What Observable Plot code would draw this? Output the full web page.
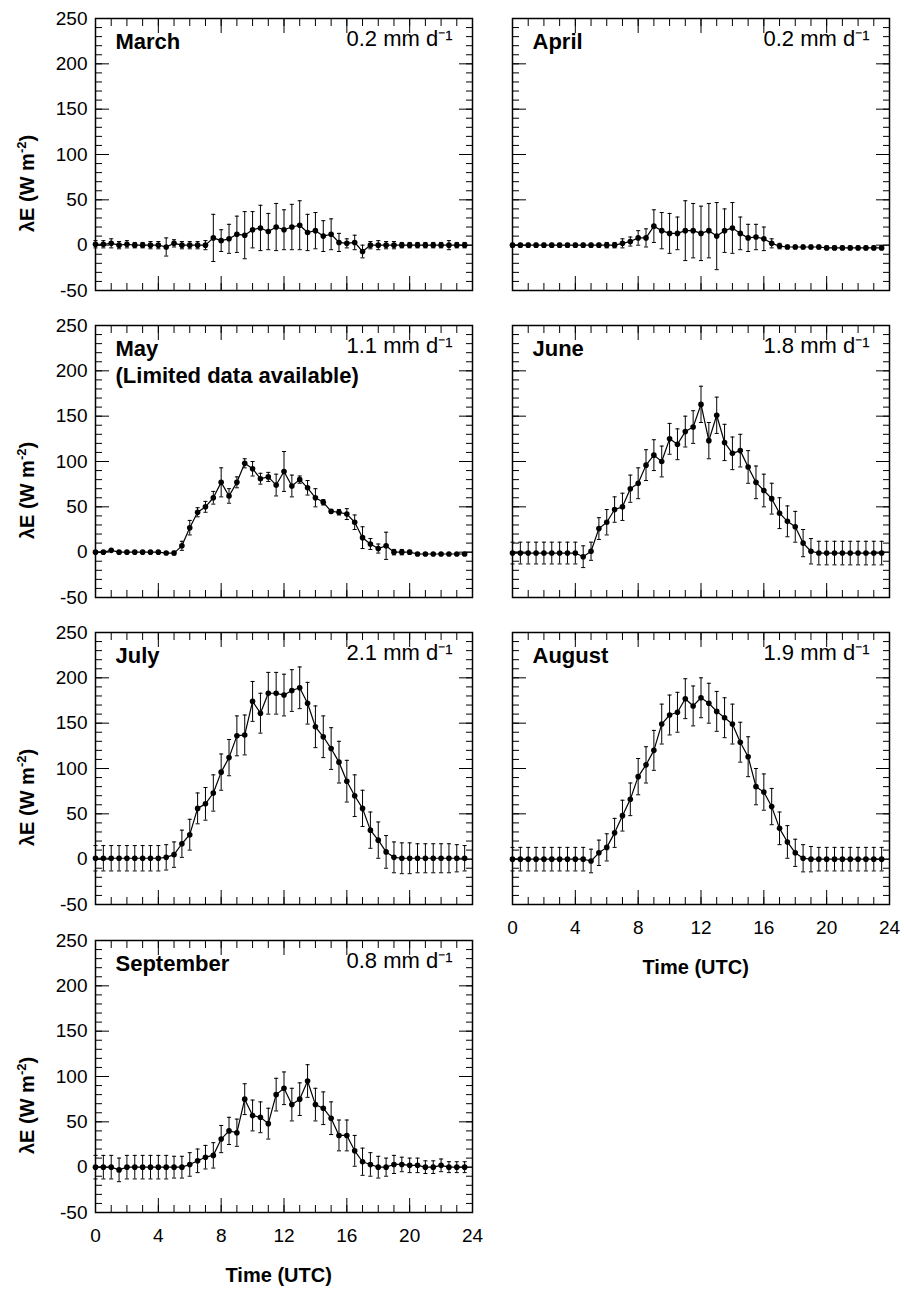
<!DOCTYPE html>
<html>
<head>
<meta charset="utf-8">
<script src="https://cdn.jsdelivr.net/npm/d3@7"></script>
<script src="https://cdn.jsdelivr.net/npm/@observablehq/plot@0.6"></script>
<style>
  body { margin: 0; background: white; font-family: "Liberation Sans", Arial, sans-serif; }
  #wrap { position: relative; width: 904px; height: 1295px; }
  .panel { position: absolute; }
  .ylab { position: absolute; font-weight: bold; font-size: 20px; transform: rotate(-90deg); transform-origin: left top; white-space: nowrap; }
  .xlab { position: absolute; font-weight: bold; font-size: 20px; }
</style>
</head>
<body>
<div id="wrap"></div>
<script>
// half-hourly times 0 .. 23.5
const times = d3.range(48).map(i => i / 2);

const marchE = [1,1,2,0,1,0,0,0,0,-2,2,0,0,0,0,8,5,7,12,11,17,19,15,20,17,20,22,14,16,10,12,3,2,3,-7,0,0,0,0,0,0,0,0,0,0,0,0,0];
const marchErr = [4,4,5,4,4,3,3,4,4,10,4,4,4,4,5,26,12,16,20,26,20,25,20,26,22,25,27,20,20,17,17,10,5,8,7,4,5,4,4,3,3,3,3,3,3,5,3,3];
const aprilE = [0,0,0,0,0,0,0,0,0,0,0,0,0,0,2,4,8,8,21,16,13,13,16,16,13,16,10,16,19,13,8,9,7,2,-1,-2,-2,-2,-2,-2,-3,-3,-3,-3,-3,-3,-3,-3];
const aprilErr = [2,2,2,2,2,2,2,2,2,2,2,2,3,3,5,5,8,10,18,20,22,18,33,30,30,30,37,24,28,18,15,14,13,5,3,2,2,2,2,2,2,2,2,2,2,2,2,2];
const mayE = [0,0,2,0,0,0,0,0,0,-1,-1,7,27,44,50,60,77,62,77,98,92,81,83,74,89,73,80,71,60,55,45,44,42,33,16,9,4,7,0,0,0,-2,-2,-2,-2,-2,-2,-2];
const mayErr = [1,1,1,1,1,1,1,1,1,1,2,5,8,5,6,7,16,8,6,5,8,6,5,12,22,12,4,8,10,3,2,3,6,8,12,6,5,15,3,3,2,1,1,1,1,1,1,1];
const juneE = [-1,-1,-1,-1,-1,-1,-1,-1,-1,-5,1,26,33,47,50,70,76,96,107,100,125,119,133,138,163,123,151,121,109,112,94,77,68,59,43,34,28,10,1,-1,-1,-1,-1,-1,-1,-1,-1,-1];
const juneErr = [12,12,12,12,12,12,12,12,12,12,10,12,14,14,15,15,17,17,17,17,17,17,17,18,20,20,20,20,18,18,18,18,18,17,17,17,17,15,14,13,13,13,13,13,13,13,13,13];
const julyE = [1,1,1,1,1,1,1,1,1,2,5,17,27,56,61,73,96,112,136,137,174,161,183,183,181,186,189,172,146,135,122,107,86,70,56,32,21,8,2,1,1,1,1,1,1,1,1,1];
const julyErr = [14,14,14,14,14,14,14,14,14,14,14,15,17,17,18,20,20,20,22,22,22,22,23,23,23,23,23,23,23,23,23,23,23,23,20,20,20,18,17,17,17,16,16,16,16,16,15,14];
const augustE = [0,0,0,0,0,0,0,0,0,0,-2,7,13,29,48,66,91,104,120,149,159,162,177,169,178,172,163,156,149,129,113,80,74,58,34,19,7,1,0,0,0,0,0,0,0,0,0,0];
const augustErr = [13,13,13,13,13,13,13,13,13,13,13,14,15,16,17,18,20,20,22,22,22,22,22,22,22,22,22,22,22,22,22,20,20,20,18,18,15,15,14,13,13,13,13,13,13,13,13,13];
const septE = [0,0,0,-3,0,0,0,0,0,0,0,0,3,7,11,13,31,40,38,75,57,55,48,80,87,69,75,95,69,65,54,35,35,18,6,3,0,0,3,3,2,2,0,0,2,0,0,0];
const septErr = [13,13,13,13,13,13,13,13,13,13,12,12,13,13,13,14,15,15,15,17,17,17,17,18,18,18,18,18,18,18,18,17,17,17,15,13,12,10,10,8,8,8,7,7,7,6,6,6];

const panels = [
  {name: "March", rate: "0.2 mm d⁻¹", e: marchE, err: marchErr, col: 0, row: 0},
  {name: "April", rate: "0.2 mm d⁻¹", e: aprilE, err: aprilErr, col: 1, row: 0},
  {name: "May\n(Limited data available)", rate: "1.1 mm d⁻¹", e: mayE, err: mayErr, col: 0, row: 1},
  {name: "June", rate: "1.8 mm d⁻¹", e: juneE, err: juneErr, col: 1, row: 1},
  {name: "July", rate: "2.1 mm d⁻¹", e: julyE, err: julyErr, col: 0, row: 2},
  {name: "August", rate: "1.9 mm d⁻¹", e: augustE, err: augustErr, col: 1, row: 2, xlabels: true},
  {name: "September", rate: "0.8 mm d⁻¹", e: septE, err: septErr, col: 0, row: 3, xlabels: true}
];

const rowTop = [18, 325, 632, 940];
const plotH = 272;
const wrap = document.getElementById("wrap");
const blank = () => "";

panels.forEach(p => {
  const data = times.map((t, i) => ({t, e: p.e[i], lo: p.e[i] - p.err[i], hi: p.e[i] + p.err[i]}));
  const left = p.col === 0;
  const mL = left ? 95 : 92;
  const svgLeft = left ? 0 : 420;
  const width = left ? 492 : 484;
  const mR = width - mL - 377;

  const plot = Plot.plot({
    width,
    height: plotH + 50,
    marginLeft: mL,
    marginRight: mR,
    marginTop: 10,
    marginBottom: 40,
    x: {domain: [0, 24]},
    y: {domain: [-50, 250]},
    style: {fontFamily: "Liberation Sans, Arial, sans-serif", fontSize: "19px", color: "black"},
    marks: [
      // minor ticks
      Plot.axisX(d3.range(0, 25, 1), {anchor: "bottom", tickSize: -7, tickFormat: blank, label: null}),
      Plot.axisX(d3.range(0, 25, 1), {anchor: "top", tickSize: -7, tickFormat: blank, label: null}),
      Plot.axisY(d3.range(-50, 251, 10), {anchor: "left", tickSize: -7, tickFormat: blank, label: null}),
      Plot.axisY(d3.range(-50, 251, 10), {anchor: "right", tickSize: -7, tickFormat: blank, label: null}),
      // major ticks
      Plot.axisX(d3.range(0, 25, 4), {anchor: "bottom", tickSize: -14, tickPadding: 30, tickFormat: p.xlabels ? d => d : blank, label: null}),
      Plot.axisX(d3.range(0, 25, 4), {anchor: "top", tickSize: -14, tickFormat: blank, label: null}),
      Plot.axisY(d3.range(-50, 251, 50), {anchor: "left", tickSize: -14, tickPadding: 22, tickFormat: left ? d => d : blank, label: null}),
      Plot.axisY(d3.range(-50, 251, 50), {anchor: "right", tickSize: -14, tickFormat: blank, label: null}),
      Plot.frame({stroke: "black", strokeWidth: 1.5}),
      Plot.ruleX(data, {x: "t", y1: "lo", y2: "hi", stroke: "black", strokeWidth: 1}),
      Plot.link(data, {x1: d => d.t - 0.13, x2: d => d.t + 0.13, y1: "lo", y2: "lo", stroke: "black"}),
      Plot.link(data, {x1: d => d.t - 0.13, x2: d => d.t + 0.13, y1: "hi", y2: "hi", stroke: "black"}),
      Plot.line(data, {x: "t", y: "e", stroke: "black", strokeWidth: 1.2}),
      Plot.dot(data, {x: "t", y: "e", r: 2.8, fill: "black"}),
      Plot.text([p.name], {frameAnchor: "top-left", dx: 20, dy: 12, fontWeight: "bold", fontSize: 22, lineHeight: 1.2, textAnchor: "start"}),
      Plot.text([p.rate], {frameAnchor: "top-right", dx: -20, dy: 12, fontSize: 22, textAnchor: "end"})
    ]
  });

  const div = document.createElement("div");
  div.className = "panel";
  div.style.left = svgLeft + "px";
  div.style.top = (rowTop[p.row] - 10) + "px";
  div.appendChild(plot);
  wrap.appendChild(div);

  if (left) {
    const yl = document.createElement("div");
    yl.className = "ylab";
    yl.innerHTML = "λE (W m<sup style='font-size:13px'>-2</sup>)";
    yl.style.left = "14px";
    yl.style.top = (rowTop[p.row] + plotH / 2 + 78) + "px";
    wrap.appendChild(yl);
  }
  if (p.xlabels) {
    const xl = document.createElement("div");
    xl.className = "xlab";
    xl.textContent = "Time (UTC)";
    xl.style.left = (svgLeft + mL + 377 / 2 - 58) + "px";
    xl.style.top = (rowTop[p.row] + plotH + 52) + "px";
    wrap.appendChild(xl);
  }
});
</script>
</body>
</html>
